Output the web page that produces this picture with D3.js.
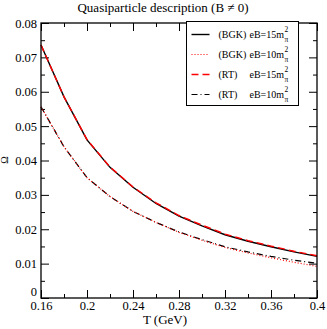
<!DOCTYPE html>
<html>
<head>
<meta charset="utf-8">
<script src="https://cdn.jsdelivr.net/npm/d3@7"></script>
<style>
  body { margin: 0; background: #fff; }
  text { font-family: "Liberation Serif", "Times New Roman", serif; fill: #000; }
</style>
</head>
<body>
<svg width="327" height="329"></svg>
<script>
// temperature grid (GeV)
var temps = [0.16, 0.18, 0.20, 0.22, 0.24, 0.26, 0.28, 0.30, 0.32, 0.34, 0.36, 0.38, 0.40];

// Omega values
var bgk15 = [0.0736, 0.0585, 0.0460, 0.0380, 0.0322, 0.0275, 0.0238, 0.0210, 0.0184, 0.0165, 0.0149, 0.0134, 0.0121];
var bgk10 = [0.0556, 0.0440, 0.0350, 0.0295, 0.0252, 0.0220, 0.0191, 0.0168, 0.0147, 0.0131, 0.0117, 0.0104, 0.0092];
var rt15  = [0.0736, 0.0585, 0.0461, 0.0381, 0.0323, 0.0277, 0.0240, 0.0212, 0.0186, 0.0167, 0.0151, 0.0136, 0.0123];
var rt10  = [0.0556, 0.0440, 0.0350, 0.0295, 0.0252, 0.0220, 0.0192, 0.0170, 0.0149, 0.0134, 0.0121, 0.0110, 0.0101];

var xTicks = [0.16, 0.2, 0.24, 0.28, 0.32, 0.36, 0.4];
var yTicks = [0, 0.01, 0.02, 0.03, 0.04, 0.05, 0.06, 0.07, 0.08];

var series = [
  {name: "(BGK)", eb: "15", values: bgk15, color: "#000", dash: null, width: 1.4},
  {name: "(BGK)", eb: "10", values: bgk10, color: "#ff0000", dash: "1,2", width: 1.2},
  {name: "(RT)", eb: "15", values: rt15, color: "#ff0000", dash: "7,4", width: 1.4},
  {name: "(RT)", eb: "10", values: rt10, color: "#000", dash: "6,3,1,3", width: 1.2}
];

var svg = d3.select("svg");
var margin = {left: 41, right: 10, top: 23, bottom: 31};
var width = 327 - margin.left - margin.right;
var height = 329 - margin.top - margin.bottom;

var x = d3.scaleLinear().domain([0.16, 0.4]).range([0, width]);
var y = d3.scaleLinear().domain([0, 0.08]).range([height, 0]);

var plot = svg.append("g")
              .attr("transform", "translate(" + margin.left + "," + margin.top + ")");

// minor ticks
var xMinor = d3.range(0.18, 0.4, 0.04);
var yMinor = d3.range(0.005, 0.08, 0.01);

// bottom and top axes, ticks pointing inward
plot.append("g")
    .attr("transform", "translate(0," + height + ")")
    .call(d3.axisBottom(x).tickValues(xTicks).tickSize(-8).tickPadding(3)
            .tickFormat(function(d) { return d3.format("")(+d.toFixed(2)); }))
    .call(function(g) { g.select(".domain").remove(); })
    .selectAll("text").attr("font-size", 12.5);

plot.append("g")
    .attr("transform", "translate(0," + height + ")")
    .call(d3.axisBottom(x).tickValues(xMinor).tickSize(-4).tickFormat(""))
    .call(function(g) { g.select(".domain").remove(); });

plot.append("g")
    .call(d3.axisTop(x).tickValues(xTicks).tickSize(-8).tickFormat(""))
    .call(function(g) { g.select(".domain").remove(); });

plot.append("g")
    .call(d3.axisTop(x).tickValues(xMinor).tickSize(-4).tickFormat(""))
    .call(function(g) { g.select(".domain").remove(); });

// left and right axes
plot.append("g")
    .call(d3.axisLeft(y).tickValues(yTicks).tickSize(-8).tickPadding(4)
            .tickFormat(function(d) { return d === 0 ? "0" : d3.format(".2f")(d); }))
    .call(function(g) { g.select(".domain").remove(); })
    .selectAll("text")
    .attr("font-size", 12.5)
    // the "0" sits a bit higher so it clears the 0.16 label
    .attr("dy", function(d) { return d === 0 ? "-0.2em" : "0.32em"; });

plot.append("g")
    .call(d3.axisLeft(y).tickValues(yMinor).tickSize(-4).tickFormat(""))
    .call(function(g) { g.select(".domain").remove(); });

plot.append("g")
    .attr("transform", "translate(" + width + ",0)")
    .call(d3.axisRight(y).tickValues(yTicks).tickSize(-8).tickFormat(""))
    .call(function(g) { g.select(".domain").remove(); });

plot.append("g")
    .attr("transform", "translate(" + width + ",0)")
    .call(d3.axisRight(y).tickValues(yMinor).tickSize(-4).tickFormat(""))
    .call(function(g) { g.select(".domain").remove(); });

plot.selectAll(".tick line").attr("stroke", "#000").attr("stroke-width", 1);

// lines
var line = d3.line()
             .x(function(d, i) { return x(temps[i]); })
             .y(function(d) { return y(d); });

// draw black ones first, red on top like the figure
var order = [0, 3, 2, 1];
order.forEach(function(k) {
  var s = series[k];
  plot.append("path")
      .datum(s.values)
      .attr("d", line)
      .attr("fill", "none")
      .attr("stroke", s.color)
      .attr("stroke-width", s.width)
      .attr("stroke-dasharray", s.dash);
});

// frame
plot.append("rect")
    .attr("width", width)
    .attr("height", height)
    .attr("fill", "none")
    .attr("stroke", "#000")
    .attr("stroke-width", 1.3);

// legend box
var legend = svg.append("g").attr("transform", "translate(186.5,21.5)");
legend.append("rect")
      .attr("width", 112)
      .attr("height", 84)
      .attr("fill", "#fff")
      .attr("stroke", "#000")
      .attr("stroke-width", 1);

series.forEach(function(s, i) {
  var ly = 13 + i * 20;
  legend.append("line")
        .attr("x1", 5).attr("x2", 23)
        .attr("y1", ly).attr("y2", ly)
        .attr("stroke", s.color)
        .attr("stroke-width", s.width)
        .attr("stroke-dasharray", s.dash);
  legend.append("text")
        .attr("x", 32).attr("y", ly + 3.5)
        .attr("font-size", 10)
        .text(s.name);
  var t = legend.append("text")
                .attr("x", 63).attr("y", ly + 3.5)
                .attr("font-size", 10);
  t.append("tspan").text("eB=" + s.eb + "m");
  t.append("tspan").attr("dx", 0.5).attr("dy", -6).attr("font-size", 7.5).text("2");
  t.append("tspan").attr("dx", -3.8).attr("dy", 10).attr("font-size", 7.5).text("\u03c0");
});

// title and axis labels
svg.append("text")
   .attr("x", 163).attr("y", 12)
   .attr("text-anchor", "middle")
   .attr("font-size", 13)
   .text("Quasiparticle description (B \u2260 0)");

svg.append("text")
   .attr("x", 165).attr("y", 324)
   .attr("text-anchor", "middle")
   .attr("font-size", 13)
   .text("T (GeV)");

svg.append("text")
   .attr("transform", "translate(8,160) rotate(-90)")
   .attr("text-anchor", "middle")
   .attr("font-size", 10)
   .text("\u03a9");
</script>
</body>
</html>
